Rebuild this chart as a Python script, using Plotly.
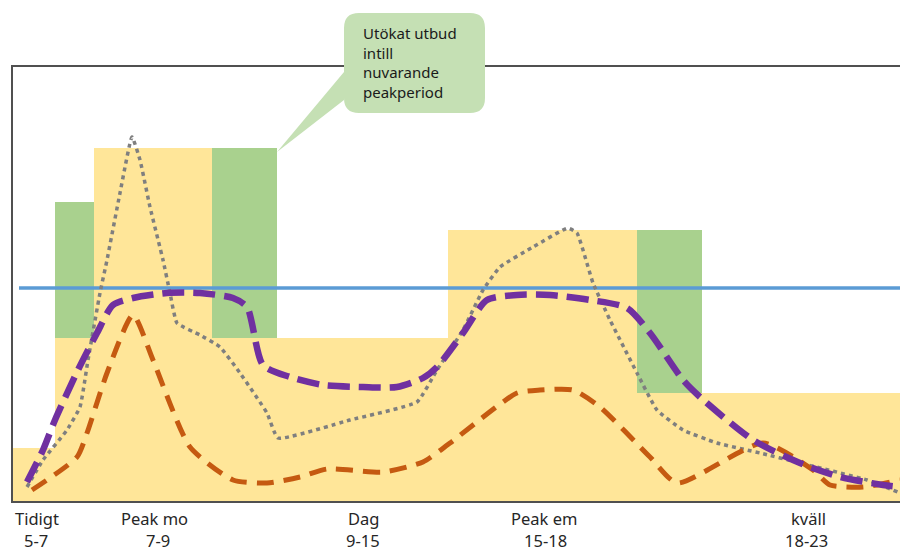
import plotly.graph_objects as go

# ---------------- data ----------------
# supply level (yellow step area): segment edges and level per segment
supply_edges = [13, 55, 94, 212, 277, 448, 637, 702, 900]
supply_level = [53, 163, 353, 163, 163, 271, 108, 108]

# extended supply (green blocks)
ext_left = [55, 212, 637]
ext_right = [94, 277, 702]
ext_bottom = [163, 163, 108]
ext_top = [299, 353, 271]

# capacity line (blue)
cap_x = [19, 900]
cap_y = [213, 213]

# purple dashed curve
purple_x = [27, 43, 55, 78, 97, 113, 133, 167, 200, 233, 247, 263, 290, 323, 363, 397, 423, 437,
            463, 487, 517, 550, 590, 627, 650, 683, 700, 753, 800, 840, 883, 900]
purple_y = [19, 51, 81, 131, 168, 196, 203, 208, 208, 203, 194, 136, 124, 116, 114, 114, 123, 134,
            168, 201, 206, 206, 201, 193, 168, 121, 104, 61, 38, 24, 16, 14]

# orange dashed curve
orange_x = [32, 77, 87, 107, 133, 153, 190, 233, 267, 300, 327, 383, 423, 450, 517, 540, 573, 600,
            650, 677, 763, 813, 830, 863, 900]
orange_y = [11, 44, 68, 128, 186, 141, 54, 21, 18, 24, 32, 29, 39, 58, 108, 111, 111, 94,
            44, 18, 58, 31, 16, 14, 21]

# gray dotted curve
gray_x = [27, 43, 67, 80, 88, 100, 107, 120, 132, 140, 150, 163, 170, 177, 200, 220, 240, 267, 278,
          350, 417, 437, 463, 483, 500, 533, 568, 577, 593, 610, 637, 657, 683, 717, 760, 800, 867, 900]
gray_y = [14, 41, 71, 94, 141, 208, 241, 308, 364, 341, 294, 241, 208, 178, 166, 154, 128, 88, 63,
          81, 99, 131, 171, 211, 234, 254, 273, 268, 218, 181, 128, 91, 71, 58, 48, 38, 21, 8]

# period labels
period_names = ["Tidigt", "Peak mo", "Dag", "Peak em", "kväll"]
period_name_x = [37, 154, 363, 544, 808]
period_hours = ["5-7", "7-9", "9-15", "15-18", "18-23"]
period_hours_x = [36, 158, 363, 545, 806]

callout_text = "Utökat utbud<br>intill<br>nuvarande<br>peakperiod"

# ---------------- figure ----------------
W, H = 900, 552
ML, MR, MT, MB = 13, 0, 67, 51
X0, X1 = 13, 900
Y0, Y1 = 0, 434
PW = W - ML - MR
PH = H - MT - MB

LABEL_FONT = dict(family="Noto Sans", size=16.5, color="#262626")

fig = go.Figure()

# yellow step area as bars
sup_centers = [(a + b) / 2 for a, b in zip(supply_edges[:-1], supply_edges[1:])]
sup_widths = [b - a for a, b in zip(supply_edges[:-1], supply_edges[1:])]
fig.add_trace(go.Bar(x=sup_centers, y=supply_level, width=sup_widths,
                     marker=dict(color="#FFE699", line=dict(width=0)),
                     hoverinfo="skip", showlegend=False))

# green blocks
g_centers = [(a + b) / 2 for a, b in zip(ext_left, ext_right)]
g_widths = [b - a for a, b in zip(ext_left, ext_right)]
g_heights = [t - b for t, b in zip(ext_top, ext_bottom)]
fig.add_trace(go.Bar(x=g_centers, y=g_heights, base=ext_bottom, width=g_widths,
                     marker=dict(color="#A9D18E", line=dict(width=0)),
                     hoverinfo="skip", showlegend=False))

# blue capacity line
fig.add_trace(go.Scatter(x=cap_x, y=cap_y, mode="lines",
                         line=dict(color="#5B9BD5", width=3.5), showlegend=False))

# gray dotted
fig.add_trace(go.Scatter(x=gray_x, y=gray_y, mode="lines",
                         line=dict(color="#7F7F7F", width=3.5, dash="4px,4px",
                                   shape="spline", smoothing=0.4),
                         showlegend=False))
# orange dashed
fig.add_trace(go.Scatter(x=orange_x, y=orange_y, mode="lines",
                         line=dict(color="#C55A11", width=5, dash="17px,10px",
                                   shape="spline", smoothing=0.6),
                         showlegend=False))
# purple dashed
fig.add_trace(go.Scatter(x=purple_x, y=purple_y, mode="lines",
                         line=dict(color="#7030A0", width=6.5, dash="22px,9px",
                                   shape="spline", smoothing=0.7),
                         showlegend=False))

# period labels
for nm, x in zip(period_names, period_name_x):
    fig.add_annotation(x=x, y=-17 / PH, xref="x", yref="paper", text=nm,
                       showarrow=False, xanchor="center", yanchor="middle", font=LABEL_FONT,
                       borderpad=0)
for hr, x in zip(period_hours, period_hours_x):
    fig.add_annotation(x=x, y=-39.5 / PH, xref="x", yref="paper", text=hr,
                       showarrow=False, xanchor="center", yanchor="middle", font=LABEL_FONT,
                       borderpad=0)


# speech-bubble callout (drawn in paper coords, positioned in pixels)
def P(px, py):
    return f"{(px - ML) / PW:.5f},{(H - MB - py) / PH:.5f}"


L, R, T, B, r = 344, 485, 13, 113, 15
path = (f"M{P(L + r, T)} L{P(R - r, T)} Q{P(R, T)} {P(R, T + r)} "
        f"L{P(R, B - r)} Q{P(R, B)} {P(R - r, B)} L{P(L + r, B)} "
        f"Q{P(L, B)} {P(L, B - r)} L{P(L, 100)} L{P(277, 152)} L{P(L, 72)} "
        f"L{P(L, T + r)} Q{P(L, T)} {P(L + r, T)} Z")
fig.add_shape(type="path", path=path, xref="paper", yref="paper",
              fillcolor="#C5E0B4", line=dict(width=0), layer="above")
fig.add_annotation(x=(361 - ML) / PW, y=(H - MB - 62) / PH, xref="paper", yref="paper",
                   text=callout_text, showarrow=False, xanchor="left", yanchor="middle",
                   align="left", font=dict(family="Noto Sans", size=15, color="#1A1A1A"))

fig.update_layout(
    width=W, height=H,
    margin=dict(l=ML, r=MR, t=MT, b=MB),
    paper_bgcolor="white", plot_bgcolor="white",
    barmode="overlay", bargap=0,
    showlegend=False,
    xaxis=dict(range=[X0, X1], showgrid=False, zeroline=False, showticklabels=False,
               ticks="", showline=True, linecolor="#505050", linewidth=2, mirror=True),
    yaxis=dict(range=[Y0, Y1], showgrid=False, zeroline=False, showticklabels=False,
               ticks="", showline=True, linecolor="#505050", linewidth=2, mirror=False),
)

fig.write_html("out.html", config={"displayModeBar": False},
               post_script="document.body.style.margin='0';document.body.style.padding='0';"
                           "document.body.style.overflow='hidden';")
